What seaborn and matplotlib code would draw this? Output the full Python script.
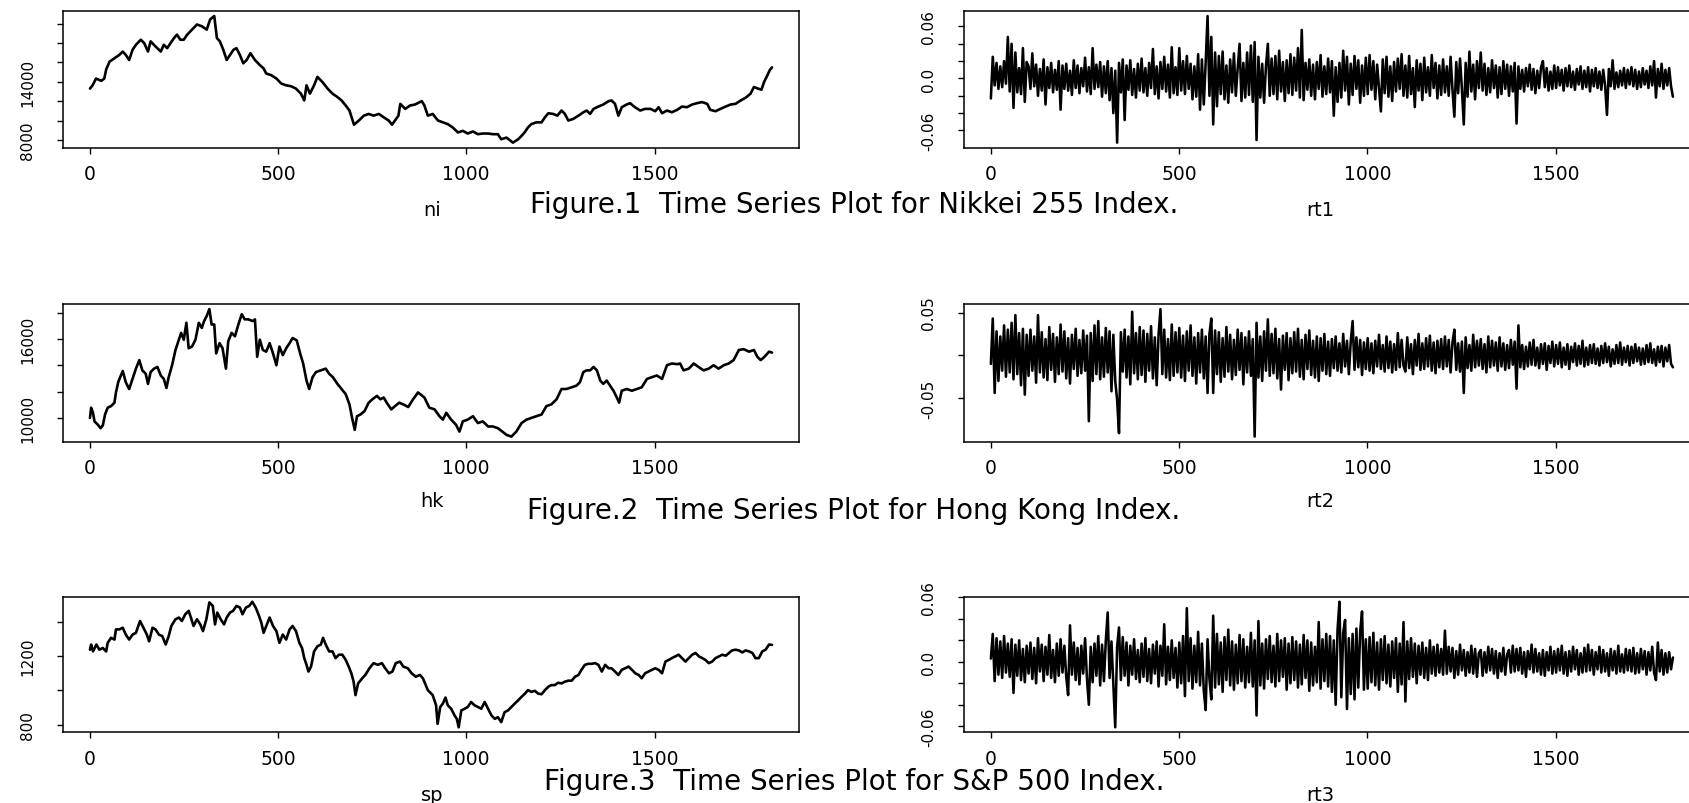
import numpy as np
import pandas as pd
import matplotlib
matplotlib.use("Agg")
import matplotlib.pyplot as plt
import seaborn as sns

# ---------------- data ----------------
# Nikkei index level (trading day, value)
ni_day = [1, 8, 17, 31, 39, 44, 53, 66, 79, 88, 96, 105, 114, 123, 136, 145, 155, 162, 175, 189,
          197, 206, 215, 224, 232, 241, 250, 259, 272, 285, 298, 311, 320, 331, 338, 346, 355, 364, 373, 382,
          390, 399, 408, 417, 427, 439, 452, 462, 469, 482, 496, 509, 522, 535, 548, 561, 570, 576, 585, 596,
          605, 618, 632, 645, 658, 669, 680, 690, 697, 702, 715, 728, 741, 754, 768, 781, 794, 803, 811, 820,
          825, 838, 851, 864, 882, 889, 898, 911, 925, 938, 951, 964, 978, 991, 1004, 1018, 1031, 1044, 1058, 1071,
          1084, 1093, 1107, 1124, 1138, 1147, 1155, 1164, 1173, 1186, 1200, 1209, 1218, 1231, 1242, 1253, 1262, 1271, 1284, 1298,
          1311, 1320, 1329, 1338, 1351, 1364, 1378, 1386, 1395, 1404, 1413, 1426, 1435, 1448, 1462, 1475, 1489, 1502, 1511, 1520,
          1533, 1546, 1560, 1573, 1586, 1600, 1613, 1626, 1640, 1648, 1662, 1675, 1689, 1702, 1715, 1729, 1742, 1755, 1764, 1775,
          1784, 1791, 1800, 1806, 1812]
ni = [13290, 13630, 14330, 14090, 14330, 15270, 16070, 16420, 16770, 17110, 16770, 16240, 17290, 17810, 18330, 17980, 17110, 18160, 17640, 17110,
      17810, 17460, 17980, 18500, 18850, 18330, 18330, 18850, 19370, 19900, 19720, 19370, 20420, 20770, 18500, 18160, 17290, 16240, 16770, 17290,
      17460, 16770, 15900, 16240, 16940, 16240, 15720, 15370, 14850, 14680, 14330, 13810, 13630, 13530, 13290, 12770, 12070, 13630, 12770, 13630,
      14500, 13980, 13290, 12770, 12420, 12070, 11550, 11030, 10160, 9570, 10000, 10500, 10680, 10500, 10680, 10330, 10000, 9570, 10000, 10500,
      11720, 11200, 11550, 11650, 12000, 11550, 10500, 10680, 10000, 9810, 9630, 9290, 8770, 8940, 8660, 8870, 8590, 8660, 8660, 8590,
      8590, 8070, 8240, 7720, 8070, 8420, 8770, 9290, 9630, 9810, 9810, 10330, 10750, 10680, 10500, 11030, 10680, 10000, 10160, 10500,
      10850, 11030, 10680, 11200, 11440, 11650, 12000, 12070, 11720, 10500, 11370, 11650, 11790, 11370, 11030, 11200, 11200, 10960, 11370, 10750,
      11030, 10850, 11100, 11440, 11370, 11650, 11790, 11900, 11720, 11100, 10960, 11200, 11440, 11650, 11720, 12070, 12350, 12770, 13460, 13290,
      13180, 13980, 14680, 15200, 15480]

# Hong Kong index level
hk_day = [1, 4, 9, 13, 22, 29, 35, 41, 48, 57, 66, 70, 76, 83, 88, 96, 105, 114, 123, 132,
          140, 149, 155, 162, 171, 180, 189, 197, 204, 210, 219, 228, 237, 243, 250, 257, 263, 272, 281, 290,
          298, 304, 311, 318, 324, 331, 336, 345, 353, 362, 368, 377, 386, 395, 404, 412, 421, 433, 439, 445,
          452, 460, 469, 478, 487, 496, 504, 513, 522, 531, 539, 550, 559, 567, 576, 583, 592, 601, 614, 627,
          636, 646, 658, 669, 680, 690, 697, 704, 710, 719, 730, 741, 751, 763, 772, 781, 789, 801, 811, 822,
          833, 846, 859, 872, 889, 902, 916, 929, 938, 947, 960, 973, 982, 991, 1004, 1018, 1031, 1044, 1058, 1071,
          1084, 1096, 1107, 1120, 1133, 1147, 1160, 1173, 1186, 1200, 1213, 1226, 1240, 1253, 1266, 1280, 1293, 1302, 1311, 1320,
          1329, 1338, 1347, 1356, 1364, 1373, 1382, 1391, 1400, 1406, 1413, 1426, 1440, 1453, 1466, 1480, 1493, 1506, 1520, 1533,
          1546, 1560, 1568, 1577, 1591, 1604, 1617, 1630, 1644, 1657, 1670, 1684, 1697, 1710, 1724, 1737, 1751, 1764, 1773, 1782,
          1792, 1804, 1812]
hk = [10000, 10780, 10390, 9740, 9480, 9220, 9430, 10260, 10780, 10900, 11160, 11940, 12720, 13230, 13570, 12720, 12200, 12970, 13750, 14400,
      13620, 13360, 12590, 13490, 13750, 13880, 13230, 12970, 12280, 13100, 14010, 15170, 15950, 16470, 15950, 17240, 15300, 15430, 15950, 17240,
      16850, 17370, 17760, 18280, 17110, 17110, 14910, 15690, 15300, 13750, 15820, 16470, 16210, 17110, 17890, 17500, 17500, 17370, 17500, 14650,
      15950, 15170, 15040, 15690, 14910, 14010, 15430, 14780, 15300, 15690, 16080, 15900, 14910, 14140, 12840, 12200, 13100, 13490, 13620, 13750,
      13360, 13100, 12590, 12200, 11810, 11030, 10000, 9090, 10130, 10260, 10520, 11160, 11420, 11680, 11420, 11550, 11160, 10650, 10900, 11160,
      11030, 10830, 11420, 11940, 11550, 10780, 10650, 10130, 9870, 10390, 9870, 9480, 8960, 9740, 9870, 10130, 9610, 9740, 9350, 9350,
      9220, 8960, 8710, 8580, 8960, 9610, 9870, 10000, 10130, 10260, 10900, 11030, 11420, 12200, 12200, 12330, 12460, 12720, 13490, 13620,
      13620, 13880, 13620, 12840, 12590, 12840, 12460, 12070, 11550, 11160, 12070, 12200, 12070, 12200, 12330, 12970, 13100, 13230, 12970, 14010,
      14140, 14090, 14140, 13620, 13750, 14140, 13880, 13620, 13750, 14010, 13750, 14010, 14140, 14400, 15170, 15230, 15040, 15170, 14650, 14400,
      14650, 15040, 14970]

# S&P 500 index level
sp_day = [1, 4, 9, 18, 26, 35, 44, 48, 57, 66, 70, 79, 88, 96, 105, 114, 123, 134, 143, 152,
          158, 167, 175, 184, 193, 202, 210, 217, 228, 237, 245, 254, 263, 269, 276, 285, 294, 301, 310, 318,
          327, 333, 339, 348, 357, 364, 373, 381, 390, 399, 406, 415, 424, 432, 441, 450, 456, 462, 469, 478,
          487, 496, 504, 513, 522, 531, 539, 548, 557, 564, 570, 576, 581, 588, 596, 605, 614, 620, 627, 636,
          645, 653, 662, 671, 680, 688, 695, 701, 706, 713, 724, 732, 743, 754, 765, 776, 785, 795, 804, 813,
          824, 833, 845, 855, 866, 877, 885, 898, 911, 920, 924, 931, 938, 945, 951, 960, 969, 975, 980, 987,
          996, 1004, 1013, 1022, 1031, 1040, 1049, 1058, 1067, 1076, 1084, 1093, 1102, 1111, 1120, 1129, 1138, 1147, 1156, 1164,
          1173, 1182, 1191, 1200, 1209, 1218, 1226, 1235, 1244, 1253, 1262, 1271, 1280, 1289, 1298, 1306, 1315, 1324, 1333, 1342,
          1351, 1360, 1369, 1378, 1386, 1395, 1404, 1413, 1422, 1431, 1440, 1449, 1458, 1466, 1475, 1484, 1493, 1502, 1511, 1520,
          1529, 1538, 1546, 1555, 1564, 1573, 1582, 1591, 1600, 1609, 1618, 1627, 1635, 1644, 1653, 1662, 1671, 1680, 1689, 1698,
          1706, 1715, 1724, 1733, 1742, 1751, 1760, 1768, 1777, 1786, 1795, 1804, 1812]
sp = [1237, 1267, 1227, 1267, 1237, 1247, 1227, 1277, 1306, 1296, 1355, 1355, 1365, 1325, 1296, 1325, 1335, 1404, 1365, 1325,
      1286, 1365, 1355, 1325, 1316, 1267, 1316, 1375, 1414, 1424, 1404, 1443, 1463, 1424, 1375, 1414, 1384, 1345, 1414, 1512,
      1492, 1384, 1453, 1414, 1384, 1424, 1453, 1463, 1492, 1482, 1443, 1482, 1492, 1516, 1482, 1433, 1394, 1335, 1375, 1424,
      1375, 1345, 1277, 1325, 1296, 1355, 1375, 1345, 1277, 1247, 1188, 1149, 1110, 1139, 1227, 1257, 1267, 1306, 1267, 1227,
      1227, 1188, 1208, 1208, 1178, 1139, 1100, 1051, 973, 1041, 1071, 1090, 1129, 1159, 1149, 1159, 1129, 1100, 1110, 1159,
      1168, 1139, 1129, 1100, 1080, 1090, 1071, 1002, 973, 914, 806, 904, 924, 959, 914, 894, 855, 835, 786, 884,
      894, 904, 933, 914, 904, 894, 933, 894, 855, 835, 845, 816, 874, 884, 904, 924, 943, 963, 982, 1002,
      992, 998, 982, 978, 1002, 1022, 1031, 1031, 1045, 1041, 1051, 1057, 1057, 1080, 1090, 1120, 1149, 1155, 1155, 1159,
      1149, 1110, 1149, 1129, 1129, 1110, 1090, 1120, 1129, 1139, 1120, 1100, 1090, 1071, 1100, 1110, 1120, 1129, 1120, 1100,
      1168, 1178, 1188, 1198, 1208, 1188, 1168, 1188, 1208, 1218, 1198, 1188, 1178, 1159, 1168, 1188, 1198, 1208, 1202, 1218,
      1233, 1237, 1233, 1221, 1233, 1227, 1218, 1188, 1188, 1227, 1237, 1267, 1265]

# Log returns, in units of 0.001, one reading every 5 trading days
rt1_milli = [-23, 25, -8, 18, -12, 14, -10, 20, -6, 48, -15, 40, -34, 30, -16, 12, -18, 35, -27, 19,
             14, -12, 29, -9, 16, -20, 11, -14, 22, -30, 13, -11, 18, -16, 10, -13, 20, -36, 15, -12,
             17, -14, 9, -19, 21, -11, 15, -17, 12, -9, 24, -15, 13, -18, 35, -12, 16, -10, 19, -21,
             14, -17, 20, -25, 12, -40, 9, -74, 18, -16, 22, -48, 15, -13, 21, -19, 11, -22, 17, -14,
             23, -16, 12, -20, 18, -11, 34, -18, 14, -23, 19, -12, 25, -15, 16, -22, 36, -17, 13, -19,
             35, -14, 20, -18, 26, -12, 17, -24, 14, -21, 28, -36, 22, -30, 18, 72, -20, 48, -53, 30,
             -32, 26, -18, 31, -24, 15, -28, 22, -16, 29, -20, 12, 40, -26, 18, -22, 30, -19, 38, -27,
             42, -71, 25, -22, 17, -28, 14, 40, -20, 23, -18, 26, -24, 32, -15, 19, -26, 21, -17, 28,
             -19, 24, -14, 35, -22, 56, -25, 18, -13, 22, -20, 16, -24, 19, -12, 27, -21, 14, -18, 23,
             -16, 20, -43, 13, -27, 18, -22, 32, -14, 25, -30, 17, -19, 26, -12, 21, -28, 15, -20, 24,
             -18, 27, -13, 20, -24, 16, -11, -38, 22, -17, 25, -21, 14, -26, 19, -15, 23, -12, 28, -20,
             15, -22, 26, -18, 12, -33, 21, -14, 17, -25, 24, -16, 13, -20, 27, -11, 18, -23, 15, -19,
             22, -16, 14, -20, 25, -13, -44, 19, -17, 23, -12, -53, 18, -21, 31, -15, 16, -24, 20, -11,
             30, -14, 17, -19, 12, -16, 21, -11, 15, -22, 13, -18, 20, -12, 16, -20, 14, -15, 18, -52,
             14, -12, 10, -15, 12, -9, 16, -13, 11, -17, 9, -11, 13, 20, -10, 12, -14, 8, -12, 15,
             -11, 13, -8, 10, -14, 12, -9, 15, -10, 8, -13, 11, -7, 14, -12, 9, -10, 13, -15, 10,
             -9, 12, -11, 8, -13, 10, -8, -42, 11, -9, 21, -12, 7, -10, 9, -8, 12, -11, 10, -7,
             13, -9, 10, -12, 8, -10, 12, -7, 9, -11, 14, -8, 20, -22, 11, -9, 17, -12, 10, -8,
             12, -9, -21]
rt2_milli = [-10, 43, -44, 28, -30, 22, -18, 35, -25, 30, -20, 38, -28, 47, -22, 26, -35, 31, -46, 24,
             -24, 30, -18, 22, -32, 47, -20, 27, -26, 19, -29, 33, -17, 25, -31, 21, -22, 36, -19, 28,
             -27, 20, -33, 24, -16, 31, -24, 18, -21, 29, -18, 23, -77, 26, -30, 35, -22, 40, -28, 21,
             -25, 32, -20, 28, -42, 24, -30, -52, -91, 27, -19, 30, -26, 22, -34, 51, -21, 26, -28, 33,
             -23, 29, -31, 25, -18, 34, -27, 21, -35, 24, 54, -22, 30, -26, 19, -29, 36, -24, 27, -20,
             32, -26, 23, -30, 28, -18, 35, -24, 21, -33, 26, -20, 30, -27, 22, -44, 25, 43, -44, 29,
             -22, 27, -31, 20, -25, 33, -19, 24, -28, 18, -23, 30, -17, 26, -34, 21, -20, 28, -24, 19,
             -95, 38, -26, 22, -30, 28, -18, 42, -24, 25, -21, 31, -27, 19, -40, 23, -17, 26, -29, 20,
             -21, 27, -19, 31, -25, 18, -28, 24, -16, 29, -23, 17, -26, 22, -30, 20, -18, 25, -22, 16,
             -24, 19, -15, 22, -18, 14, -20, 25, -13, 17, -22, 16, 40, -17, 21, -14, 18, -23, 15, -16,
             20, -18, 14, -21, 17, -13, 24, -16, 12, -19, 22, -15, 16, -20, 13, -17, 26, -14, 18, -12,
             -19, 21, -15, 13, -22, 18, -12, 25, -17, 14, -16, 20, -13, 23, -18, 15, -21, 17, -14, 19,
             -16, 22, -13, 18, -20, 15, 30, -17, 14, -19, 16, -44, 21, -15, 12, -18, 24, -14, 17, -12,
             19, -16, 13, -20, 22, -14, 17, -12, 15, -18, 21, -13, 14, -17, 12, -15, 18, -11, 16, -39,
             35, -14, 12, -16, 10, -13, 15, -11, 18, -12, 9, -15, 13, -10, 14, -17, 11, -9, 16, -13,
             12, -10, 15, -14, 9, -11, 13, -16, 10, -8, 14, -12, 11, -10, 17, -13, 9, -11, 12, -9,
             13, -10, 8, -12, 11, -9, 14, -8, 10, -13, 7, -10, 12, -9, 15, -11, 9, -8, 11, -12,
             10, -9, 13, -7, 9, -11, 8, -10, 12, -8, 14, -9, 7, -12, 10, -8, 11, -13, 9, -7,
             12, -10, -14]
rt3_milli = [3, 26, -18, 22, -12, 19, -15, 24, -10, 17, -14, 21, -29, 16, -13, 20, -17, 12, -19, 15,
             -11, 18, -16, 13, -20, 22, -9, 16, -18, 14, -12, 25, -15, 11, -19, 17, -13, 21, -10, 15,
             -14, -31, 34, -12, 18, -17, 13, -21, 15, -11, 22, -16, -40, 14, -19, 17, -13, 24, -22, 16,
             -18, 20, 46, -15, 19, -21, -61, 14, 32, -17, 23, -13, 18, -22, 15, -12, 21, -16, 11, -19,
             17, -14, 22, -18, 12, -20, 16, -11, 19, -23, 15, -13, 35, -21, 14, -17, 20, -15, 13, -24,
             18, -20, 24, -32, 50, -18, 22, -25, 15, -19, 28, -22, 17, -27, -45, 21, -16, -35, 43, -24,
             26, -21, 18, -28, 23, -17, 30, -22, 19, -26, 16, -20, 25, -18, 21, -24, 14, -19, 27, -23,
             20, -50, 38, -22, 17, -25, 21, -16, 24, -19, 15, -23, 26, -18, 20, -14, 22, -26, 17, -20,
             23, -17, 19, -24, 16, -21, 25, -15, 20, -27, 18, -22, 14, -19, 37, -25, 21, -18, 26, -23,
             24, -28, 20, -40, 30, 56, -33, 27, 39, -44, 22, -30, 26, -35, 31, -24, 28, 47, -26, 21,
             -25, 23, -19, 27, -22, 18, -26, 21, -17, 24, -20, 16, -23, 19, -15, 22, -28, 17, -21, 37,
             -37, 19, -16, 22, -14, 17, -20, 15, -12, 18, -15, 13, -17, 20, -11, 14, -13, 16, -10, 12,
             -12, 29, -11, 14, -9, 13, -15, 10, -12, 16, -8, 11, -13, 9, -10, 15, -11, 12, -14, 8,
             11, -13, 9, -10, 14, -8, 12, -11, 10, -15, 8, -9, 13, -12, 7, 11, -10, 15, -9, 12,
             -8, 13, -11, 9, -14, 10, -7, 16, -10, 12, -9, 8, -12, 11, -13, 9, -8, 14, -11, 10,
             -10, 12, -8, 15, -11, 9, -13, 10, -9, 14, -7, 11, -12, 8, -10, 13, -9, 16, -8, 11,
             -12, 9, -7, 14, -10, 11, -9, 8, -13, 12, -8, 10, -11, 15, -9, 7, -10, 12, -8, 11,
             -9, 13, -11, 8, -10, 12, -7, 10, -12, 9, -8, 14, -10, -17, 18, -9, 11, -12, 8, -10,
             9, -7, 4]
RT_STEP = 5  # trading days between readings

x_ticks = [0, 500, 1000, 1500]
x_tick_labels = ["0", "500", "1000", "1500"]

ni_ticks = [8000, 10000, 12000, 14000, 16000, 18000, 20000]
ni_labels = ["8000", "", "", "14000", "", "", ""]
hk_ticks = [10000, 12000, 14000, 16000, 18000]
hk_labels = ["10000", "", "", "16000", ""]
sp_ticks = [800, 1000, 1200, 1400]
sp_labels = ["800", "", "1200", ""]
rt1_ticks = [-0.06, -0.04, -0.02, 0.0, 0.02, 0.04, 0.06]
rt1_labels = ["-0.06", "", "", "0.0", "", "", "0.06"]
rt2_ticks = [-0.05, 0.0, 0.05]
rt2_labels = ["-0.05", "", "0.05"]
rt3_ticks = [-0.06, -0.04, -0.02, 0.0, 0.02, 0.04, 0.06]
rt3_labels = ["-0.06", "", "", "0.0", "", "", "0.06"]

titles = ["Figure.1  Time Series Plot for Nikkei 255 Index.",
          "Figure.2  Time Series Plot for Hong Kong Index.",
          "Figure.3  Time Series Plot for S&P 500 Index."]

# ---------------- drawing ----------------
sns.set_theme(style="ticks")
plt.rcParams["font.family"] = ["DejaVu Sans"]

W, H = 1690, 804
fig = plt.figure(figsize=(W / 100, H / 100), dpi=100)
fig.patch.set_facecolor("white")


def px_axes(x0, y0, x1, y1):
    return fig.add_axes([x0 / W, 1 - y1 / H, (x1 - x0) / W, (y1 - y0) / H])


def panel(ax, days, vals, lw, yticks, ylabels):
    df = pd.DataFrame({"day": days, "value": vals})
    sns.lineplot(data=df, x="day", y="value", ax=ax, color="black",
                 linewidth=lw, estimator=None, sort=False)
    ax.margins(x=0.04, y=0.04)
    ax.autoscale_view()
    ax.set_xticks(x_ticks)
    ax.set_xticklabels(x_tick_labels)
    ax.set_yticks(yticks)
    ax.set_yticklabels(ylabels)
    ax.set_xlabel("")
    ax.set_ylabel("")
    ax.set_facecolor("white")
    for s in ax.spines.values():
        s.set_visible(True)
        s.set_linewidth(1.1)
        s.set_color("black")
    ax.tick_params(axis="both", direction="out", length=4.3, width=1.0,
                   colors="black")
    ax.tick_params(axis="x", labelsize=13.5, pad=7.5)
    ax.tick_params(axis="y", labelsize=11, pad=15.5, labelrotation=90)
    for t in ax.get_yticklabels():
        t.set_va("center")
        t.set_ha("right")


rows = [(12.0, 148.7), (305.0, 442.7), (597.7, 733.3)]
left_x = (62.7, 799.3)
right_x = (963.6, 1700.2)

levels = [(ni_day, ni, ni_ticks, ni_labels, "ni"),
          (hk_day, hk, hk_ticks, hk_labels, "hk"),
          (sp_day, sp, sp_ticks, sp_labels, "sp")]
rets = [(rt1_milli, rt1_ticks, rt1_labels, "rt1"),
        (rt2_milli, rt2_ticks, rt2_labels, "rt2"),
        (rt3_milli, rt3_ticks, rt3_labels, "rt3")]

xlab_y = [211, 502, 796]
title_y = [205, 511, 782]

for r, (y0, y1) in enumerate(rows):
    d, v, yt, yl, name = levels[r]
    axL = px_axes(left_x[0], y0, left_x[1], y1)
    panel(axL, d, v, 1.9, yt, yl)

    rv, rt_t, rt_l, rname = rets[r]
    rdays = 1 + RT_STEP * np.arange(len(rv))
    axR = px_axes(right_x[0], y0, right_x[1], y1)
    panel(axR, rdays, np.array(rv) / 1000.0, 1.85, rt_t, rt_l)

    fig.text(432 / W, 1 - xlab_y[r] / H, name, ha="center", va="center",
             fontsize=14, color="black")
    fig.text(1320 / W, 1 - xlab_y[r] / H, rname, ha="center", va="center",
             fontsize=14, color="black")
    fig.text(854 / W, 1 - title_y[r] / H, titles[r], ha="center", va="center",
             fontsize=20, color="black")

fig.savefig("out.png", dpi=100, facecolor="white")
